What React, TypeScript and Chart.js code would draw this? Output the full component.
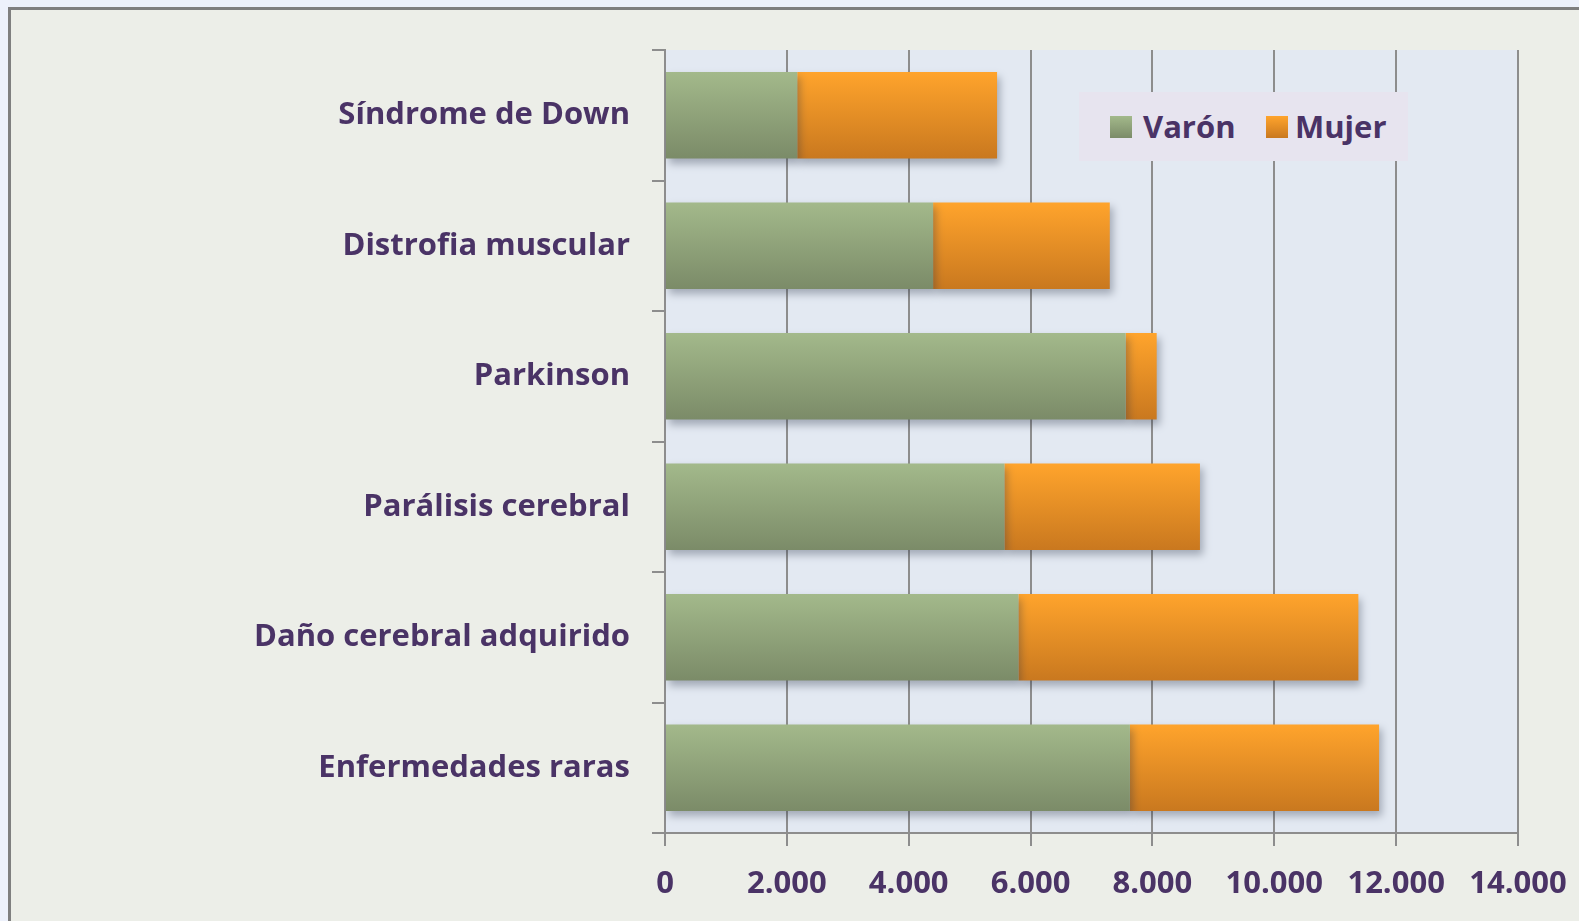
import React, { useEffect, useRef } from "react";
import { Chart, registerables } from "chart.js";

Chart.register(...registerables);

const categories = [
  "Síndrome de Down",
  "Distrofia muscular",
  "Parkinson",
  "Parálisis cerebral",
  "Daño cerebral adquirido",
  "Enfermedades raras",
];
const seriesNames = ["Varón", "Mujer"];
const varon = [2170, 4400, 7560, 5570, 5800, 7630];
const mujer = [3280, 2900, 510, 3210, 5580, 4090];
const xTickValues = [0, 2000, 4000, 6000, 8000, 10000, 12000, 14000];
const xTickLabels = ["0", "2.000", "4.000", "6.000", "8.000", "10.000", "12.000", "14.000"];

const TEXT_COLOR = "#4a3366";
const GRID_COLOR = "#8d8d8d";
const FONT_FAMILY = "'Open Sans', Lato, sans-serif";
const FONT_SIZE = 31;
const BAR_FRACTION = 0.664;

const greenStops = ["#a3b98b", "#7b8b68"];
const orangeStops = ["#ffa42c", "#c9781f"];

function barGradient(stops: string[]) {
  return (ctx: any) => {
    const chart = ctx.chart;
    const y = chart.scales && chart.scales.y;
    if (!y || ctx.type !== "data" || !isFinite(y.height) || y.height <= 0) return stops[0];
    const center = y.getPixelForValue(ctx.dataIndex);
    const half = ((y.height / categories.length) * BAR_FRACTION) / 2;
    const g = chart.ctx.createLinearGradient(0, center - half, 0, center + half);
    g.addColorStop(0, stops[0]);
    g.addColorStop(1, stops[1]);
    return g;
  };
}

const plotBackground = {
  id: "plotBackground",
  beforeDraw(chart: any) {
    const { ctx, chartArea } = chart;
    if (!chartArea) return;
    ctx.save();
    ctx.fillStyle = "#e3e9f2";
    ctx.fillRect(chartArea.left, chartArea.top, chartArea.right - chartArea.left, chartArea.bottom - chartArea.top);
    ctx.restore();
  },
};

const barShadow = {
  id: "barShadow",
  beforeDatasetsDraw(chart: any) {
    const c = chart.ctx;
    c.save();
    c.shadowColor = "rgba(40, 50, 70, 0.35)";
    c.shadowBlur = 8;
    c.shadowOffsetX = 3;
    c.shadowOffsetY = 5;
  },
  afterDatasetsDraw(chart: any) {
    chart.ctx.restore();
  },
};

export default function App() {
  const canvasRef = useRef<HTMLCanvasElement | null>(null);

  useEffect(() => {
    if (!canvasRef.current) return;
    const chart = new Chart(canvasRef.current, {
      type: "bar",
      data: {
        labels: categories,
        datasets: [
          {
            label: seriesNames[0],
            data: varon,
            backgroundColor: barGradient(greenStops),
            borderWidth: 0,
            categoryPercentage: 1,
            barPercentage: BAR_FRACTION,
          },
          {
            label: seriesNames[1],
            data: mujer,
            backgroundColor: barGradient(orangeStops),
            borderWidth: 0,
            categoryPercentage: 1,
            barPercentage: BAR_FRACTION,
          },
        ],
      },
      options: {
        indexAxis: "y",
        responsive: false,
        animation: false,
        layout: { padding: { top: 50, right: 61, left: 0, bottom: 0 } },
        plugins: {
          legend: { display: false },
          tooltip: { enabled: false },
        },
        scales: {
          x: {
            stacked: true,
            min: 0,
            max: 14000,
            afterBuildTicks: (scale: any) => {
              scale.ticks = xTickValues.map((v) => ({ value: v }));
            },
            ticks: {
              callback: (v: any) => {
                const i = xTickValues.indexOf(Number(v));
                return i >= 0 ? xTickLabels[i] : "";
              },
              color: TEXT_COLOR,
              font: { family: FONT_FAMILY, size: FONT_SIZE, weight: "bold" },
              padding: 20,
              maxRotation: 0,
              autoSkip: false,
            },
            grid: {
              color: GRID_COLOR,
              lineWidth: 2,
              tickLength: 13,
              tickColor: GRID_COLOR,
            },
            border: { display: true, color: GRID_COLOR, width: 2 },
            afterFit: (scale: any) => {
              scale.height = 88;
              scale.paddingLeft = 0;
              scale.paddingRight = 0;
            },
          },
          y: {
            stacked: true,
            ticks: {
              color: TEXT_COLOR,
              font: { family: FONT_FAMILY, size: FONT_SIZE, weight: "bold" },
              padding: 22,
            },
            grid: {
              drawOnChartArea: false,
              drawTicks: true,
              tickLength: 13,
              color: GRID_COLOR,
              tickColor: GRID_COLOR,
              lineWidth: 2,
              offset: true,
            },
            border: { display: true, color: GRID_COLOR, width: 2 },
            afterFit: (scale: any) => {
              scale.width = 665;
              scale.paddingTop = 0;
              scale.paddingBottom = 0;
            },
          },
        },
      },
      plugins: [plotBackground, barShadow],
    });
    return () => chart.destroy();
  }, []);

  const square = (stops: string[]): React.CSSProperties => ({
    position: "absolute",
    top: 24,
    width: 22,
    height: 22,
    background: `linear-gradient(${stops[0]}, ${stops[1]})`,
  });
  const legendText: React.CSSProperties = {
    position: "absolute",
    top: 0,
    height: 69,
    lineHeight: "68px",
    fontFamily: FONT_FAMILY,
    fontWeight: "bold",
    fontSize: FONT_SIZE,
    color: TEXT_COLOR,
    whiteSpace: "nowrap",
  };

  return (
    <div style={{ position: "fixed", inset: 0, overflow: "hidden", background: "#edf1fb" }}>
      <div
        style={{
          position: "absolute",
          left: 8,
          top: 7,
          width: 1640,
          height: 1000,
          border: "3px solid #7f7f7f",
          background: "#eceee8",
        }}
      />
      <canvas
        ref={canvasRef}
        width={1579}
        height={921}
        style={{ position: "absolute", left: 0, top: 0, width: 1579, height: 921 }}
      />
      <div
        style={{
          position: "absolute",
          left: 1079,
          top: 92,
          width: 329,
          height: 69,
          background: "#e7e4ef",
        }}
      >
        <div style={{ ...square(greenStops), left: 31 }} />
        <span style={{ ...legendText, left: 64 }}>{seriesNames[0]}</span>
        <div style={{ ...square(orangeStops), left: 187 }} />
        <span style={{ ...legendText, left: 216 }}>{seriesNames[1]}</span>
      </div>
    </div>
  );
}
